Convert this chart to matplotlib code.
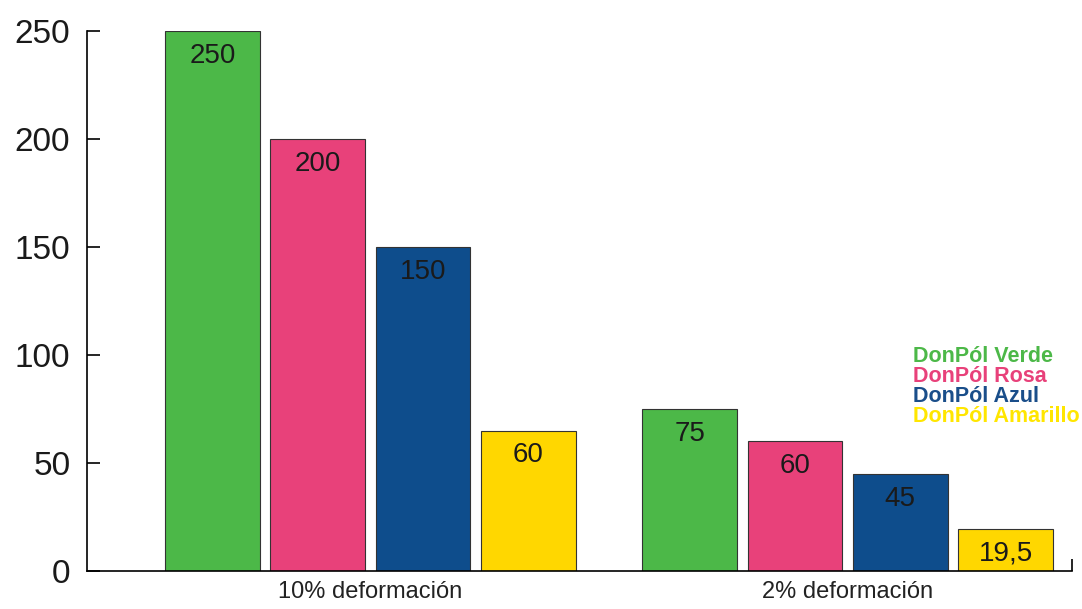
import numpy as np
import matplotlib.pyplot as plt

plt.rcParams["font.family"] = ["Liberation Sans", "DejaVu Sans"]

groups = ["10% deformación", "2% deformación"]
series = ["DonPól Verde", "DonPól Rosa", "DonPól Azul", "DonPól Amarillo"]
values = [[250, 75], [200, 60], [150, 45], [65, 19.5]]
value_labels = [["250", "75"], ["200", "60"], ["150", "45"], ["60", "19,5"]]
bar_colors = ["#4cb848", "#e8417a", "#0e4d8c", "#ffd700"]
text_colors = ["#4cb848", "#e8417a", "#1a4e8a", "#ffe600"]
yticks = [0, 50, 100, 150, 200, 250]

fig = plt.figure(figsize=(10.82, 6.09), dpi=100)
ax = fig.add_axes([0.0804, 0.0624, 0.9104, 0.8867])

centers = np.array([2.69, 7.22])
offsets = [-1.5, -0.5, 0.5, 1.5]
for i in range(4):
    xs = centers + offsets[i]
    ax.bar(xs, values[i], width=0.9, color=bar_colors[i], edgecolor="#333333", linewidth=0.8)
    for x, v, lab in zip(xs, values[i], value_labels[i]):
        ax.text(x, v - 5.5, lab, ha="center", va="top", fontsize=20, color="#1a1a1a")

ax.set_xlim(0, 9.35)
ax.set_ylim(0, 250)
ax.set_yticks(yticks)
ax.set_yticklabels([str(t) for t in yticks], fontsize=24, color="#1a1a1a")
ax.tick_params(axis="y", direction="in", length=9, width=1.2, pad=12)
ax.set_xticks(centers)
ax.set_xticklabels(groups, fontsize=17, color="#222222")
ax.tick_params(axis="x", length=0, pad=7)
ax.set_xticks([9.35], minor=True)
ax.tick_params(axis="x", which="minor", direction="in", length=9, width=1.2)
ax.spines["top"].set_visible(False)
ax.spines["right"].set_visible(False)
ax.spines["left"].set_linewidth(1.2)
ax.spines["bottom"].set_linewidth(1.2)

# legend as colored text
for i, name in enumerate(series):
    fig.text(913 / 1082, 1 - (357 + 20 * i) / 609, name, color=text_colors[i],
             fontsize=15.5, fontweight="bold", va="center", ha="left")

fig.savefig("out.png", dpi=100)
